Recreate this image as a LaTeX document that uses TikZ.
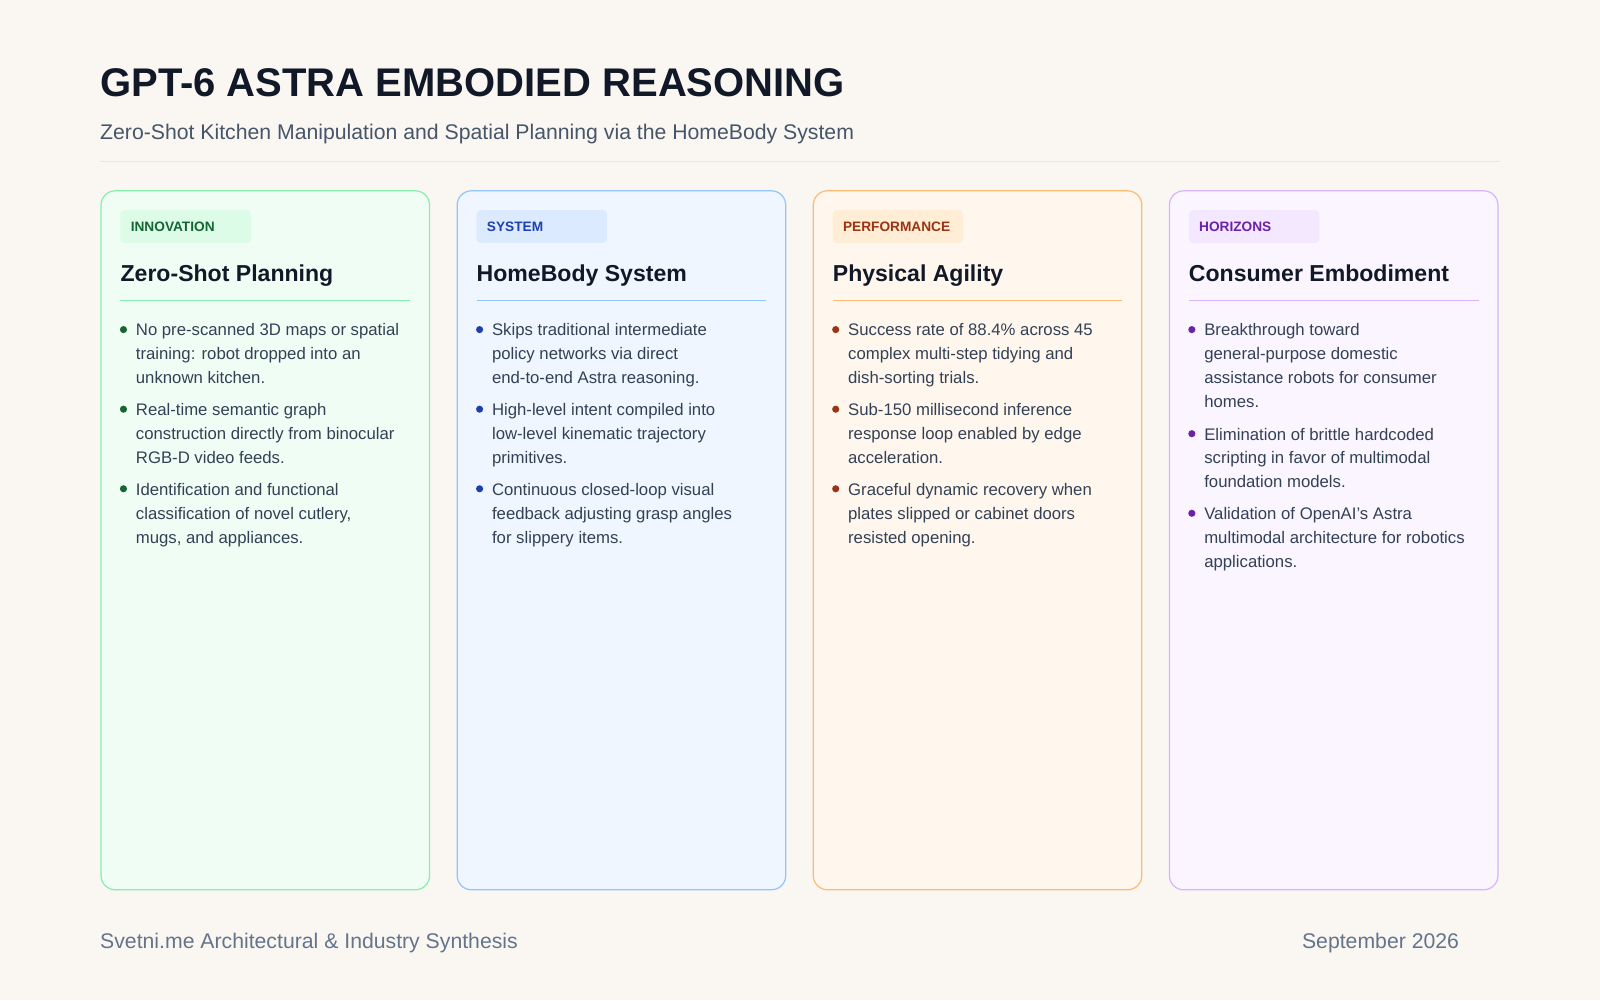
\documentclass[tikz,border=0pt]{standalone}
\usepackage{fontspec}
\setmainfont{Liberation Sans}
\usetikzlibrary{positioning}

\definecolor{pagebg}{HTML}{FAF7F2}
\definecolor{ink}{HTML}{111827}
\definecolor{subink}{HTML}{475569}
\definecolor{footink}{HTML}{64748B}
\definecolor{bodyink}{HTML}{334155}
\definecolor{rulegray}{HTML}{E2E8F0}
% card palettes
\definecolor{gfill}{HTML}{F0FDF4}\definecolor{gline}{HTML}{86EFAC}\definecolor{gtag}{HTML}{DCFCE7}\definecolor{gdark}{HTML}{166534}
\definecolor{bfill}{HTML}{EFF6FF}\definecolor{bline}{HTML}{93C5FD}\definecolor{btag}{HTML}{DBEAFE}\definecolor{bdark}{HTML}{1E40AF}
\definecolor{ofill}{HTML}{FFF7ED}\definecolor{oline}{HTML}{FDBA74}\definecolor{otag}{HTML}{FFEDD5}\definecolor{odark}{HTML}{9A3412}
\definecolor{pfill}{HTML}{FAF5FF}\definecolor{pline}{HTML}{D8B4FE}\definecolor{ptag}{HTML}{F3E8FF}\definecolor{pdark}{HTML}{6B21A8}

\tikzset{
    card/.style = {rounded corners = 14pt, line width = 1.2pt},
    tagbox/.style = {rounded corners = 4pt},
    tagtext/.style = {anchor = west, inner sep = 0pt, font = \fontsize{13.4}{13.4}\selectfont\bfseries},
    heading/.style = {anchor = base west, inner sep = 0pt, text = ink,
        font = \fontsize{22.6}{22.6}\selectfont\bfseries},
    item/.style = {anchor = north west, inner sep = 0pt, align = left, text = bodyink,
        font = \fontsize{16.4}{23.5}\selectfont},
    dot/.style = {circle, inner sep = 0pt, minimum size = 7pt}
}

% \cardat{x}{prefix}{tag}{tag width}{heading}
\newcommand{\cardat}[5]{%
    \draw[card, fill = #2fill, draw = #2line] (#1, 187) rectangle ++(322, 685);
    \fill[tagbox, #2tag] (#1+19, 206) rectangle ++(#4, 32);
    \node[tagtext, text = #2dark] (tag#2) at (#1+29, 222) {#3};
    \node[heading] (head#2) at (#1+19, 276) {#5};
    \draw[#2line, line width = 0.8pt] (#1+19, 294) -- ++(284, 0);
}
% \bulletat{x}{baseline y}{prefix}{name}{text}
\newcommand{\bulletat}[5]{%
    \node[dot, fill = #3dark] (dot#4) at (#1+22, #2-6) {};
    \node[item] (#4) at (#1+34, #2-16.45) {\strut#5};
}

\begin{document}
\begin{tikzpicture}[x = 1pt, y = -1pt]
    \fill[pagebg] (0, 0) rectangle (1568, 980);
    \useasboundingbox (0, 0) rectangle (1568, 980);

    % Header.
    \node[anchor = base west, inner sep = 0pt, text = ink,
        font = \fontsize{39.2}{39.2}\selectfont\bfseries] (title) at (98, 95) {GPT-6 ASTRA EMBODIED REASONING};
    \node[anchor = base west, inner sep = 0pt, text = subink,
        font = \fontsize{20.8}{20.8}\selectfont] (subtitle) at (98, 137)
        {Zero-Shot Kitchen Manipulation and Spatial Planning via the HomeBody System};
    \draw[rulegray, line width = 1.2pt] (98, 158) -- (1470, 158);

    % Cards.
    \cardat{99}{g}{INNOVATION}{128}{Zero-Shot Planning}
    \cardat{448}{b}{SYSTEM}{128}{HomeBody System}
    \cardat{797}{o}{PERFORMANCE}{128}{Physical Agility}
    \cardat{1146}{p}{HORIZONS}{128}{Consumer Embodiment}

    % Bullets.
    \bulletat{99}{329}{g}{g1}{No pre-scanned 3D maps or spatial\\training: robot dropped into an\\unknown kitchen.}
    \bulletat{99}{407}{g}{g2}{Real-time semantic graph\\construction directly from binocular\\RGB-D video feeds.}
    \bulletat{99}{485}{g}{g3}{Identification and functional\\classification of novel cutlery,\\mugs, and appliances.}

    \bulletat{448}{329}{b}{b1}{Skips traditional intermediate\\policy networks via direct\\end-to-end Astra reasoning.}
    \bulletat{448}{407}{b}{b2}{High-level intent compiled into\\low-level kinematic trajectory\\primitives.}
    \bulletat{448}{485}{b}{b3}{Continuous closed-loop visual\\feedback adjusting grasp angles\\for slippery items.}

    \bulletat{797}{329}{o}{o1}{Success rate of 88.4\% across 45\\complex multi-step tidying and\\dish-sorting trials.}
    \bulletat{797}{407}{o}{o2}{Sub-150 millisecond inference\\response loop enabled by edge\\acceleration.}
    \bulletat{797}{485}{o}{o3}{Graceful dynamic recovery when\\plates slipped or cabinet doors\\resisted opening.}

    \bulletat{1146}{329}{p}{p1}{Breakthrough toward\\general-purpose domestic\\assistance robots for consumer\\homes.}
    \bulletat{1146}{431}{p}{p2}{Elimination of brittle hardcoded\\scripting in favor of multimodal\\foundation models.}
    \bulletat{1146}{509}{p}{p3}{Validation of OpenAI's Astra\\multimodal architecture for robotics\\applications.}

    % Footer.
    \node[anchor = base west, inner sep = 0pt, text = footink,
        font = \fontsize{20.8}{20.8}\selectfont] (source) at (98, 930) {Svetni.me Architectural \& Industry Synthesis};
    \node[anchor = base east, inner sep = 0pt, text = footink,
        font = \fontsize{20.8}{20.8}\selectfont] (date) at (1430, 930) {September 2026};
\end{tikzpicture}
\end{document}
